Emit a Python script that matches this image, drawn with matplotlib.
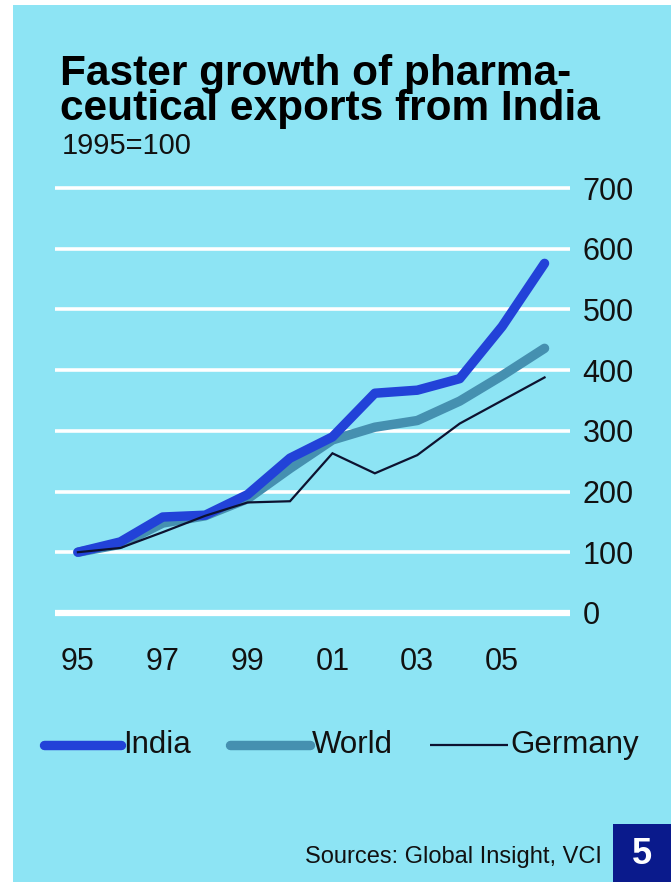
import matplotlib
matplotlib.use("Agg")
from matplotlib import pyplot as plt
from matplotlib.lines import Line2D
from matplotlib.patches import Rectangle

plt.rcParams['font.family'] = ['Liberation Sans', 'DejaVu Sans']

# index values, 1995=100
years = [1995, 1996, 1997, 1998, 1999, 2000, 2001, 2002, 2003, 2004, 2005, 2006]
india = [100, 117, 158, 161, 195, 255, 290, 362, 367, 386, 472, 576]
world = [100, 113, 148, 160, 188, 238, 285, 306, 317, 349, 391, 436]
germany = [100, 107, 133, 160, 182, 184, 263, 230, 260, 312, 350, 388]

x_ticks = [1995, 1997, 1999, 2001, 2003, 2005]
x_labels = ['95', '97', '99', '01', '03', '05']
y_ticks = [0, 100, 200, 300, 400, 500, 600, 700]

BG = '#8de4f4'
INDIA_C = '#2242d8'
WORLD_C = '#4590b0'
GER_C = '#0d1230'
TXT = '#111111'

fig = plt.figure(figsize=(6.71, 8.91), dpi=100, facecolor='white')
W, H = 671, 891


def fx(px):
    return px / W


def fy(py):
    return 1 - py / H


# panel background
bg = Rectangle((fx(13), fy(882)), fx(658), fy(5) - fy(882),
               transform=fig.transFigure, facecolor=BG, edgecolor='none', zorder=-10)
fig.add_artist(bg)

ax = fig.add_axes([fx(55), fy(622), fx(570) - fx(55), fy(179) - fy(622)])
ax.set_zorder(2)
ax.set_facecolor('none')
ax.set_xlim(1994.46, 2006.6)
ax.set_ylim(-15, 715)

for v in y_ticks:
    ax.axhline(v, color='white', lw=4.5 if v == 0 else 2.6, zorder=1, solid_capstyle='butt')

ax.plot(years, germany, color=GER_C, lw=1.6, zorder=3, solid_joinstyle='miter')
ax.plot(years, world, color=WORLD_C, lw=6.8, zorder=2, solid_capstyle='round')
ax.plot(years, india, color=INDIA_C, lw=6.8, zorder=2.5, solid_capstyle='round')

for s in ax.spines.values():
    s.set_visible(False)

ax.yaxis.tick_right()
ax.set_yticks(y_ticks)
ax.set_yticklabels([str(v) for v in y_ticks])
ax.set_xticks(x_ticks)
ax.set_xticklabels(x_labels)
ax.tick_params(axis='y', length=0, pad=9, labelsize=22, labelcolor=TXT)
ax.tick_params(axis='x', length=0, pad=18, labelsize=22, labelcolor=TXT)

# title block
fig.text(fx(60), fy(54), 'Faster growth of pharma-\nceutical exports from India',
         fontsize=30.5, fontweight='bold', va='top', ha='left', linespacing=0.84, color='black')
fig.text(fx(62), fy(146), '1995=100', fontsize=21, va='center', ha='left', color=TXT)

# legend
legend_items = [
    ('India', INDIA_C, 6.8, 44, 121),
    ('World', WORLD_C, 6.8, 230, 310),
    ('Germany', GER_C, 1.6, 430, 508),
]
for name, col, lw, x0, x1 in legend_items:
    fig.add_artist(Line2D([fx(x0), fx(x1)], [fy(745), fy(745)], transform=fig.transFigure,
                          color=col, lw=lw, solid_capstyle='round' if lw > 3 else 'butt'))
    fig.text(fx(x1 + 2), fy(745), name, fontsize=22.5, va='center', ha='left', color=TXT)

# source and page number
fig.text(fx(602), fy(857), 'Sources: Global Insight, VCI', fontsize=17,
         va='center', ha='right', color=TXT)
fig.add_artist(Rectangle((fx(613), fy(882)), fx(58), fy(824) - fy(882),
                         transform=fig.transFigure, facecolor='#0a1a8c', edgecolor='none'))
fig.text(fx(642), fy(855), '5', fontsize=26, fontweight='bold',
         va='center', ha='center', color='white')

fig.savefig('out.png', dpi=100, facecolor='white')
